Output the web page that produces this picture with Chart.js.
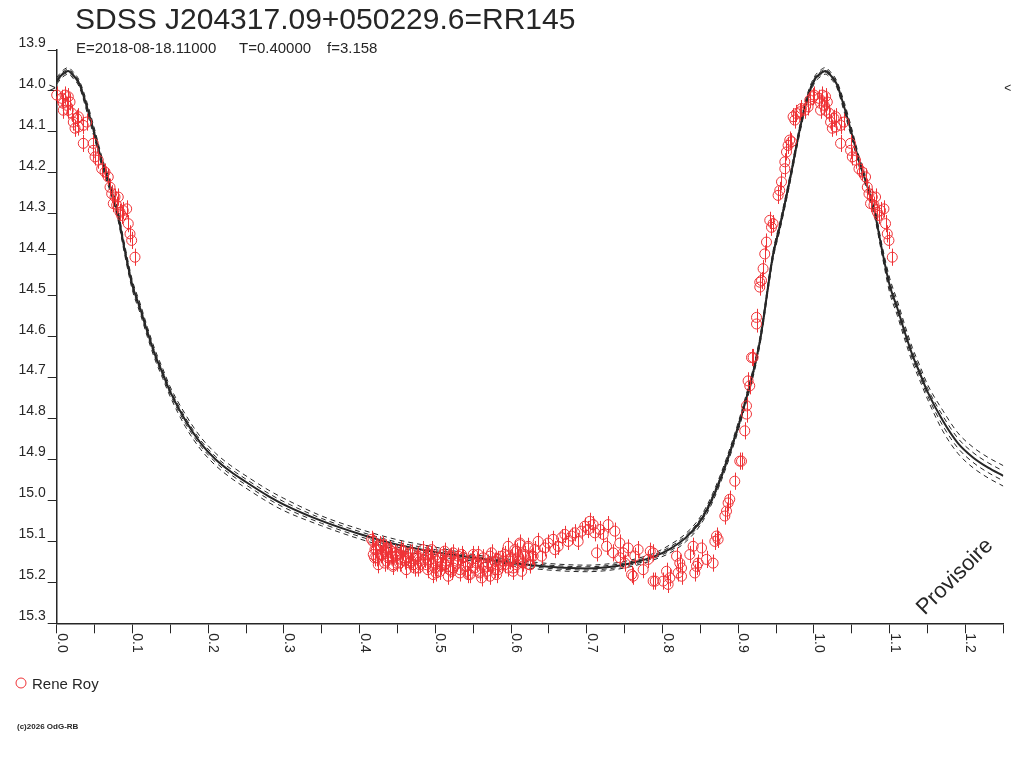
<!DOCTYPE html>
<html lang="fr">
<head>
<meta charset="UTF-8">
<title>SDSS J204317.09+050229.6=RR145</title>
<style>
  html, body { margin: 0; padding: 0; background: #fff; }
  #wrap { width: 1024px; height: 768px; }
</style>
</head>
<body>
<div id="wrap"><canvas id="lc" width="1024" height="768"></canvas></div>
<script src="https://cdn.jsdelivr.net/npm/chart.js"></script>
<script>
// ---- data ----
const titleText = 'SDSS J204317.09+050229.6=RR145';
const subtitleParts = ['E=2018-08-18.11000', 'T=0.40000', 'f=3.158'];
const observer = 'Rene Roy';
const copyright = '(c)2026 OdG-RB';
const stamp = 'Provisoire';

const xTickMarks = [0, 0.05, 0.1, 0.15, 0.2, 0.25, 0.3, 0.35, 0.4, 0.45, 0.5, 0.55, 0.6,
  0.65, 0.7, 0.75, 0.8, 0.85, 0.9, 0.95, 1.0, 1.05, 1.1, 1.15, 1.2, 1.25];
const xTickLabels = ['0.0', '0.1', '0.2', '0.3', '0.4', '0.5', '0.6', '0.7', '0.8', '0.9', '1.0', '1.1', '1.2'];
const yTickLabels = ['13.9', '14.0', '14.1', '14.2', '14.3', '14.4', '14.5', '14.6', '14.7',
  '14.8', '14.9', '15.0', '15.1', '15.2', '15.3'];
const PHASE_MAX = 1.25;
const maxMark = 14.0;     // the little > and < markers
const magErr = 0.021;     // error bar half height

// model curves (phase, mag)
const modelPhase = [0, 0.008, 0.015, 0.022, 0.03, 0.04, 0.05, 0.06, 0.07, 0.08, 0.09, 0.10,
  0.11, 0.12, 0.13, 0.14, 0.15, 0.17, 0.19, 0.21, 0.23, 0.25, 0.28, 0.30, 0.35, 0.40, 0.45,
  0.50, 0.55, 0.60, 0.65, 0.70, 0.74, 0.77, 0.79, 0.81, 0.83, 0.85, 0.866, 0.885, 0.906,
  0.928, 0.946, 0.955, 0.968, 0.981, 0.99, 1.0, 1.008, 1.015, 1.022, 1.03, 1.04, 1.05,
  1.06, 1.07, 1.08, 1.09, 1.10, 1.11, 1.12, 1.13, 1.14, 1.15, 1.17, 1.19, 1.21, 1.23, 1.25];
const modelMag = [13.975, 13.958, 13.951, 13.962, 13.983, 14.040, 14.105, 14.175, 14.230,
  14.295, 14.390, 14.475, 14.530, 14.590, 14.645, 14.690, 14.735, 14.805, 14.860, 14.900,
  14.930, 14.955, 14.990, 15.010, 15.050, 15.082, 15.108, 15.126, 15.140, 15.152, 15.162,
  15.166, 15.160, 15.148, 15.136, 15.118, 15.092, 15.050, 14.994, 14.904, 14.781, 14.617,
  14.400, 14.330, 14.218, 14.096, 14.025, 13.975, 13.958, 13.951, 13.962, 13.983, 14.040,
  14.105, 14.175, 14.230, 14.295, 14.390, 14.475, 14.530, 14.590, 14.645, 14.690, 14.735,
  14.805, 14.860, 14.895, 14.920, 14.940];
const modelUpOuter = [13.967, 13.950, 13.943, 13.954, 13.975, 14.028, 14.093, 14.163, 14.218,
  14.283, 14.378, 14.463, 14.518, 14.578, 14.633, 14.678, 14.723, 14.790, 14.845, 14.885,
  14.915, 14.940, 14.975, 14.995, 15.038, 15.070, 15.096, 15.114, 15.132, 15.144, 15.154,
  15.158, 15.152, 15.140, 15.128, 15.108, 15.082, 15.040, 14.984, 14.894, 14.771, 14.607,
  14.390, 14.320, 14.208, 14.086, 14.015, 13.967, 13.950, 13.943, 13.954, 13.975, 14.028,
  14.093, 14.163, 14.218, 14.283, 14.378, 14.457, 14.512, 14.572, 14.627, 14.672, 14.717,
  14.780, 14.835, 14.870, 14.895, 14.915];
const modelUpInner = [13.971, 13.954, 13.947, 13.958, 13.979, 14.034, 14.099, 14.169, 14.224,
  14.289, 14.384, 14.469, 14.524, 14.584, 14.639, 14.684, 14.729, 14.798, 14.853, 14.893,
  14.923, 14.948, 14.983, 15.003, 15.044, 15.076, 15.102, 15.120, 15.136, 15.148, 15.158,
  15.162, 15.156, 15.144, 15.132, 15.113, 15.087, 15.045, 14.989, 14.899, 14.776, 14.612,
  14.395, 14.325, 14.213, 14.091, 14.020, 13.971, 13.954, 13.947, 13.958, 13.979, 14.034,
  14.099, 14.169, 14.224, 14.289, 14.384, 14.466, 14.521, 14.581, 14.636, 14.681, 14.726,
  14.793, 14.848, 14.883, 14.908, 14.928];
const modelLowInner = [13.979, 13.962, 13.955, 13.966, 13.987, 14.046, 14.111, 14.181, 14.236,
  14.301, 14.396, 14.481, 14.536, 14.596, 14.651, 14.696, 14.741, 14.812, 14.867, 14.907,
  14.937, 14.962, 14.997, 15.017, 15.056, 15.088, 15.114, 15.132, 15.144, 15.156, 15.166,
  15.170, 15.164, 15.152, 15.140, 15.123, 15.097, 15.055, 14.999, 14.909, 14.786, 14.622,
  14.405, 14.335, 14.223, 14.101, 14.030, 13.979, 13.962, 13.955, 13.966, 13.987, 14.046,
  14.111, 14.181, 14.236, 14.301, 14.396, 14.484, 14.539, 14.599, 14.654, 14.699, 14.744,
  14.817, 14.872, 14.907, 14.932, 14.952];
const modelLowOuter = [13.983, 13.966, 13.959, 13.970, 13.991, 14.052, 14.117, 14.187, 14.242,
  14.307, 14.402, 14.487, 14.542, 14.602, 14.657, 14.702, 14.747, 14.820, 14.875, 14.915,
  14.945, 14.970, 15.005, 15.025, 15.062, 15.094, 15.120, 15.138, 15.148, 15.160, 15.170,
  15.174, 15.168, 15.156, 15.144, 15.128, 15.102, 15.060, 15.004, 14.914, 14.791, 14.627,
  14.410, 14.340, 14.228, 14.106, 14.035, 13.983, 13.966, 13.959, 13.970, 13.991, 14.052,
  14.117, 14.187, 14.242, 14.307, 14.402, 14.493, 14.548, 14.608, 14.663, 14.708, 14.753,
  14.830, 14.885, 14.920, 14.945, 14.965];

// observations, phase in [0,1); shown again at phase+1 when that is still on the axis
const obsPhase = [
  0.000, 0.0066, 0.0087, 0.0087, 0.011, 0.0132, 0.0153, 0.0153, 0.0176, 0.0198,
  0.0219, 0.0242, 0.0264, 0.0286, 0.0286, 0.0351, 0.0351, 0.0396, 0.0483, 0.0483,
  0.0506, 0.0549, 0.0594, 0.0638, 0.0681, 0.0704, 0.0726, 0.0747, 0.0770, 0.0792,
  0.0813, 0.0836, 0.0858, 0.0879, 0.0924, 0.0945, 0.0968, 0.0990, 0.1034,
  0.4158, 0.4180, 0.4202, 0.4224, 0.4246, 0.4268, 0.4290, 0.4312, 0.4334, 0.4356,
  0.4378, 0.4400, 0.4422, 0.4444, 0.4466, 0.4488, 0.4532, 0.4554, 0.4576, 0.4598,
  0.4642, 0.4664, 0.4686, 0.4708, 0.4752, 0.4774, 0.4796, 0.4840, 0.4884, 0.4906,
  0.4928, 0.4950, 0.4972, 0.4994, 0.5016, 0.5060, 0.5083, 0.5104, 0.5126, 0.5170,
  0.5192, 0.5215, 0.5236, 0.5281, 0.5302, 0.5324, 0.5347, 0.5390, 0.5413, 0.5434,
  0.5479, 0.5522, 0.5545, 0.5566, 0.5588, 0.5611, 0.5632, 0.5677, 0.5698, 0.5720,
  0.5743, 0.5786, 0.5809, 0.5830, 0.5875, 0.5896, 0.5918, 0.5962, 0.5984, 0.6007,
  0.6028, 0.6050, 0.6073, 0.6094, 0.6116, 0.6139, 0.6160, 0.6182, 0.6226, 0.6248,
  0.6271, 0.6314, 0.6358, 0.6403, 0.6446, 0.6490, 0.6556, 0.6578, 0.6622, 0.6667,
  0.6710, 0.6754, 0.6799, 0.6842, 0.6886, 0.6931, 0.6974, 0.7018, 0.7040, 0.7084,
  0.7106, 0.7129, 0.7172, 0.7216, 0.7261, 0.7282, 0.7348, 0.7370, 0.7436, 0.7436,
  0.7480, 0.7502, 0.7546, 0.7591, 0.7612, 0.7634, 0.7678, 0.7744, 0.7810, 0.7838,
  0.7876, 0.7876, 0.7904, 0.8008, 0.8053, 0.8074, 0.8096, 0.8185, 0.8206, 0.8228,
  0.8251, 0.8251, 0.8360, 0.8404, 0.8426, 0.8449, 0.8470, 0.8515, 0.8581, 0.8668,
  0.8691, 0.8713, 0.8734, 0.8823, 0.8845, 0.8866, 0.8888, 0.8954, 0.9020, 0.9043,
  0.9086, 0.9109, 0.9109, 0.9130, 0.9152, 0.9175, 0.9196, 0.9241, 0.9241, 0.9284,
  0.9284, 0.9307, 0.9328, 0.9350, 0.9373, 0.9416, 0.9439, 0.9460, 0.9526, 0.9548,
  0.9571, 0.9615, 0.9615, 0.9637, 0.9658, 0.9680, 0.9703, 0.9724, 0.9747, 0.9769,
  0.9813, 0.9835, 0.9879, 0.9922, 0.9945, 0.9988,
  // second pass over the crowded minimum
  0.4176, 0.4220, 0.4198, 0.4264, 0.4286, 0.4330, 0.4352, 0.4374, 0.4418, 0.4440,
  0.4484, 0.4528, 0.4550, 0.4594, 0.4616, 0.4660, 0.4682, 0.4726, 0.4770, 0.4792,
  0.4836, 0.4858, 0.4902, 0.4946, 0.4968, 0.5011, 0.5056, 0.5077, 0.5122, 0.5143,
  0.5188, 0.5209, 0.5236, 0.5281, 0.5324, 0.5368, 0.5413, 0.5456, 0.5500, 0.5545,
  0.5588, 0.5632, 0.5677, 0.5720, 0.5743, 0.5786, 0.5830, 0.5875, 0.5918, 0.5962,
  0.5984, 0.6028, 0.6073, 0.6116, 0.6139, 0.6182, 0.6226, 0.6248, 0.6292
];
const obsMag = [
  14.010, 14.018, 14.030, 14.047, 14.010, 14.035, 14.014, 14.047, 14.027, 14.054,
  14.076, 14.091, 14.067, 14.063, 14.088, 14.084, 14.128, 14.076, 14.128, 14.145,
  14.161, 14.169, 14.190, 14.198, 14.210, 14.235, 14.251, 14.275, 14.259, 14.279,
  14.259, 14.296, 14.304, 14.292, 14.288, 14.324, 14.349, 14.365, 14.406,
  15.095, 15.132, 15.120, 15.140, 15.157, 15.112, 15.132, 15.108, 15.124, 15.148,
  15.136, 15.120, 15.136, 15.157, 15.128, 15.153, 15.132, 15.144, 15.124, 15.148,
  15.140, 15.153, 15.128, 15.157, 15.140, 15.165, 15.148, 15.132, 15.157, 15.132,
  15.144, 15.120, 15.181, 15.165, 15.148, 15.173, 15.153, 15.132, 15.157, 15.185,
  15.140, 15.173, 15.165, 15.148, 15.136, 15.177, 15.132, 15.161, 15.173, 15.181,
  15.144, 15.165, 15.148, 15.132, 15.177, 15.189, 15.157, 15.173, 15.153, 15.136,
  15.157, 15.169, 15.181, 15.144, 15.157, 15.148, 15.132, 15.165, 15.148, 15.140,
  15.173, 15.120, 15.157, 15.140, 15.108, 15.173, 15.153, 15.136, 15.116, 15.157,
  15.136, 15.120, 15.100, 15.136, 15.116, 15.104, 15.095, 15.120, 15.112, 15.091,
  15.083, 15.100, 15.087, 15.079, 15.100, 15.075, 15.063, 15.071, 15.051, 15.059,
  15.079, 15.128, 15.071, 15.083, 15.112, 15.059, 15.128, 15.075, 15.104, 15.140,
  15.128, 15.153, 15.116, 15.181, 15.185, 15.136, 15.120, 15.169, 15.144, 15.124,
  15.128, 15.197, 15.197, 15.197, 15.173, 15.205, 15.189, 15.136, 15.177, 15.153,
  15.165, 15.185, 15.132, 15.112, 15.177, 15.161, 15.153, 15.116, 15.144, 15.153,
  15.100, 15.087, 15.095, 15.038, 15.026, 15.006, 14.997, 14.953, 14.904, 14.904,
  14.830, 14.769, 14.789, 14.708, 14.720, 14.651, 14.651, 14.553, 14.569, 14.479,
  14.467, 14.463, 14.434, 14.398, 14.369, 14.316, 14.333, 14.324, 14.255, 14.243,
  14.222, 14.190, 14.173, 14.149, 14.133, 14.120, 14.124, 14.063, 14.071, 14.055,
  14.051, 14.043, 14.047, 14.039, 14.022, 14.014,
  15.100, 15.120, 15.140, 15.108, 15.132, 15.153, 15.116, 15.140, 15.124, 15.161,
  15.136, 15.153, 15.120, 15.140, 15.169, 15.128, 15.148, 15.165, 15.136, 15.157,
  15.120, 15.144, 15.169, 15.132, 15.153, 15.177, 15.140, 15.161, 15.124, 15.148,
  15.169, 15.136, 15.128, 15.153, 15.169, 15.140, 15.161, 15.181, 15.132, 15.153,
  15.173, 15.140, 15.161, 15.185, 15.128, 15.148, 15.169, 15.136, 15.157, 15.112,
  15.144, 15.165, 15.124, 15.104, 15.148, 15.132, 15.112, 15.157, 15.136
];

// ---- styling ----
const INK = '#262626';
const RED = '#ef3236';
const FONT = '"Liberation Sans", Arial, Helvetica, sans-serif';

function curve(mags) {
  return modelPhase.map((p, i) => ({ x: p, y: mags[i] }));
}

const obsPoints = [];
obsPhase.forEach((p, i) => {
  obsPoints.push({ x: p, y: obsMag[i] });
  if (p + 1 <= PHASE_MAX) obsPoints.push({ x: p + 1, y: obsMag[i] });
});

function dashed(mags) {
  return {
    data: curve(mags),
    showLine: true,
    borderColor: INK,
    borderWidth: 1,
    borderDash: [5, 4],
    pointRadius: 0,
    cubicInterpolationMode: 'monotone',
    order: 2
  };
}

// vertical error bars under each observation
const errorBars = {
  id: 'errorBars',
  afterDatasetsDraw(chart) {
    const ctx = chart.ctx;
    const xs = chart.scales.x, ys = chart.scales.y;
    ctx.save();
    ctx.strokeStyle = RED;
    ctx.lineWidth = 1;
    ctx.beginPath();
    obsPoints.forEach(pt => {
      const px = Math.round(xs.getPixelForValue(pt.x)) + 0.5;
      ctx.moveTo(px, ys.getPixelForValue(pt.y - magErr));
      ctx.lineTo(px, ys.getPixelForValue(pt.y + magErr));
    });
    ctx.stroke();
    ctx.restore();
  }
};

// title, rotated x labels, legend and the other texts
const texts = {
  id: 'texts',
  afterDraw(chart) {
    const ctx = chart.ctx;
    const xs = chart.scales.x, ys = chart.scales.y;
    const area = chart.chartArea;
    ctx.save();
    ctx.fillStyle = INK;
    ctx.textAlign = 'left';
    ctx.textBaseline = 'alphabetic';

    ctx.font = '30px ' + FONT;
    ctx.fillText(titleText, 75, 29);

    ctx.font = '15px ' + FONT;
    const subX = [76, 239, 327];
    subtitleParts.forEach((t, i) => ctx.fillText(t, subX[i], 53));

    // x labels, turned a quarter clockwise
    ctx.font = '14px ' + FONT;
    xTickLabels.forEach(lbl => {
      const px = xs.getPixelForValue(parseFloat(lbl));
      ctx.save();
      ctx.translate(px + 1, area.bottom + 10);
      ctx.rotate(Math.PI / 2);
      ctx.fillText(lbl, 0, 0);
      ctx.restore();
    });

    // max markers
    ctx.font = '12px ' + FONT;
    ctx.textBaseline = 'middle';
    const my = ys.getPixelForValue(maxMark) - 2;
    ctx.fillText('>', area.left - 8, my);
    ctx.fillText('<', area.right + 1, my);

    // legend
    ctx.strokeStyle = RED;
    ctx.lineWidth = 1;
    ctx.beginPath();
    ctx.arc(21, 683, 5, 0, Math.PI * 2);
    ctx.stroke();
    ctx.font = '15px ' + FONT;
    ctx.textBaseline = 'alphabetic';
    ctx.fillText(observer, 32, 689);

    ctx.font = 'bold 8px ' + FONT;
    ctx.fillText(copyright, 17, 729);

    // watermark
    ctx.save();
    ctx.translate(955, 577);
    ctx.rotate(-Math.PI / 4);
    ctx.font = '22px ' + FONT;
    ctx.textAlign = 'center';
    ctx.textBaseline = 'middle';
    ctx.fillText(stamp, 0, 0);
    ctx.restore();

    ctx.restore();
  }
};

new Chart(document.getElementById('lc'), {
  type: 'scatter',
  data: {
    datasets: [
      {
        label: observer,
        data: obsPoints,
        pointStyle: 'circle',
        pointRadius: 5,
        pointBorderWidth: 1,
        borderColor: RED,
        backgroundColor: 'rgba(0,0,0,0)',
        clip: false,
        order: 0
      },
      {
        data: curve(modelMag),
        showLine: true,
        borderColor: INK,
        borderWidth: 2,
        pointRadius: 0,
        cubicInterpolationMode: 'monotone',
        order: 1
      },
      dashed(modelUpOuter),
      dashed(modelUpInner),
      dashed(modelLowInner),
      dashed(modelLowOuter)
    ]
  },
  options: {
    responsive: false,
    devicePixelRatio: 1,
    animation: false,
    layout: { padding: { top: 50, left: 0, right: 20.7, bottom: 104.7 } },
    plugins: {
      legend: { display: false },
      title: { display: false },
      tooltip: { enabled: false }
    },
    scales: {
      x: {
        type: 'linear',
        min: 0,
        max: PHASE_MAX,
        afterFit: s => { s.height = 40; },
        afterBuildTicks: s => { s.ticks = xTickMarks.map(v => ({ value: v })); },
        ticks: { display: false },
        grid: { drawOnChartArea: false, drawTicks: true, tickLength: 10, color: INK, lineWidth: 1 },
        border: { display: true, color: INK, width: 1.5 }
      },
      y: {
        type: 'linear',
        reverse: true,
        min: 13.9,
        max: 15.3,
        afterFit: s => { s.width = 56.7; },
        afterBuildTicks: s => { s.ticks = yTickLabels.map(v => ({ value: parseFloat(v) })); },
        ticks: {
          align: 'end',
          padding: 2,
          color: INK,
          font: { family: FONT, size: 14 },
          callback: (v, i) => yTickLabels[i]
        },
        grid: { drawOnChartArea: false, drawTicks: true, tickLength: 9, color: INK, lineWidth: 1 },
        border: { display: true, color: INK, width: 1.5 }
      }
    }
  },
  plugins: [errorBars, texts]
});
</script>
</body>
</html>
